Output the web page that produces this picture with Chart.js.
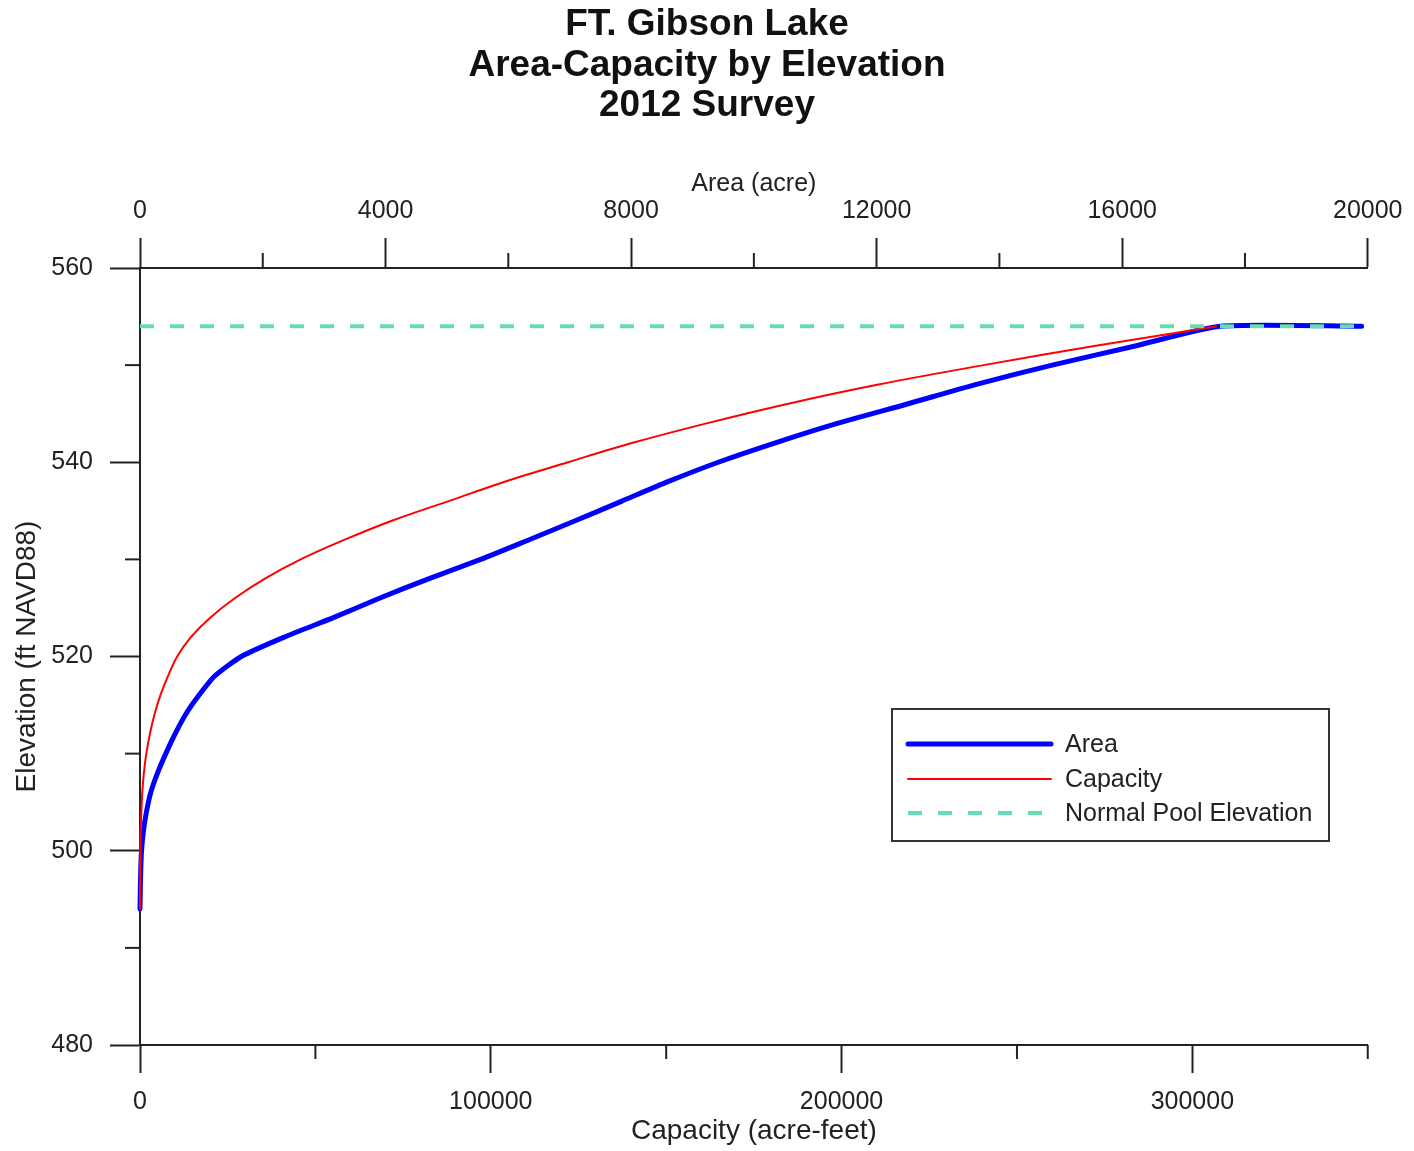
<!DOCTYPE html>
<html>
<head>
<meta charset="utf-8">
<title>FT. Gibson Lake Area-Capacity</title>
<script src="https://cdn.jsdelivr.net/npm/chart.js@4.4.1/dist/chart.umd.min.js"></script>
<style>
	html, body { margin: 0; padding: 0; background: #fff; }
	#chart { display: block; }
</style>
</head>
<body>
<canvas id="chart" width="1414" height="1151"></canvas>
<script>
// values
const areaElevations = [494, 496, 498, 500, 502, 504, 506, 508, 510, 512, 514, 516, 518, 520, 522, 524, 526, 528, 530, 532, 534, 536, 538, 540, 542, 544, 546, 548, 550, 552, 554, 554];
const areaAcres = [0, 5, 12, 25, 55, 105, 175, 285, 420, 570, 740, 960, 1220, 1650, 2350, 3150, 3900, 4700, 5550, 6330, 7100, 7850, 8600, 9420, 10350, 11360, 12500, 13610, 14860, 16230, 17600, 19900];

const capacityElevations = [494, 496, 498, 500, 502, 504, 506, 508, 510, 512, 514, 516, 518, 520, 522, 524, 526, 528, 530, 532, 534, 536, 538, 540, 542, 544, 546, 548, 550, 552, 554];
const capacityAcreFt = [0, 10, 50, 110, 200, 380, 650, 1100, 1800, 2800, 4100, 5800, 8000, 10600, 14500, 20000, 27000, 35500, 45800, 58200, 72000, 88000, 104000, 122000, 140500, 161500, 184500, 210500, 240500, 272500, 307000];

const poolElevation = 554;
const poolAreaRange = [0, 19900];

const titleLines = ['FT. Gibson Lake', 'Area-Capacity by Elevation', '2012 Survey'];

const fontFamily = '"Liberation Sans", Arial, Helvetica, sans-serif';
const axisColor = '#222';

function toPoints(xs, ys)
{
	return xs.map(function (x, i) { return { x: x, y: ys[i] }; });
}

// major ticks get the long line from Chart.js, minor ones are drawn by the plugin below
function majorTickColor(major)
{
	return function (ctx) {
		return ctx.tick && ctx.tick.value % major === 0 ? axisColor : 'rgba(0,0,0,0)';
	};
}

function majorLabel(major)
{
	return function (value) {
		return value % major === 0 ? String(value) : '';
	};
}

const minorTicks = {
	id: 'minorTicks',
	afterDraw: function (chart) {
		const ctx = chart.ctx;
		const area = chart.chartArea;
		const specs = [
			{ id: 'y', major: 20, len: 15 },
			{ id: 'x', major: 100000, len: 14 },
			{ id: 'x2', major: 4000, len: 15 }
		];
		ctx.save();
		ctx.strokeStyle = axisColor;
		ctx.lineWidth = 2;
		specs.forEach(function (spec) {
			const scale = chart.scales[spec.id];
			scale.ticks.forEach(function (t) {
				if (t.value % spec.major === 0) return;
				const p = scale.getPixelForValue(t.value);
				ctx.beginPath();
				if (spec.id === 'y') {
					ctx.moveTo(area.left - spec.len, p);
					ctx.lineTo(area.left, p);
				} else if (spec.id === 'x') {
					ctx.moveTo(p, area.bottom);
					ctx.lineTo(p, area.bottom + spec.len);
				} else {
					ctx.moveTo(p, area.top - spec.len);
					ctx.lineTo(p, area.top);
				}
				ctx.stroke();
			});
		});
		ctx.restore();
	}
};

const boxLegend = {
	id: 'boxLegend',
	afterDraw: function (chart) {
		const ctx = chart.ctx;
		const box = { left: 892, top: 709, width: 437, height: 132 };
		const rowY = [35, 70, 104];
		ctx.save();
		ctx.fillStyle = '#fff';
		ctx.fillRect(box.left, box.top, box.width, box.height);
		ctx.strokeStyle = '#333';
		ctx.lineWidth = 2;
		ctx.strokeRect(box.left, box.top, box.width, box.height);

		chart.data.datasets.forEach(function (ds, i) {
			const y = box.top + rowY[i];
			ctx.beginPath();
			ctx.setLineDash(ds.borderDash || []);
			ctx.strokeStyle = ds.borderColor;
			ctx.lineWidth = ds.borderWidth;
			ctx.lineCap = ds.borderDash ? 'butt' : 'round';
			ctx.moveTo(box.left + 16, y);
			ctx.lineTo(box.left + 159, y);
			ctx.stroke();
			ctx.setLineDash([]);

			ctx.fillStyle = axisColor;
			ctx.font = '25px ' + fontFamily;
			ctx.textAlign = 'left';
			ctx.textBaseline = 'middle';
			ctx.fillText(ds.label, box.left + 173, y + 1);
		});
		ctx.restore();
	}
};

const ctx = document.getElementById('chart').getContext('2d');
new Chart(ctx, {
	type: 'scatter',
	data: {
		datasets: [
			{
				label: 'Area',
				data: toPoints(areaAcres, areaElevations),
				xAxisID: 'x2',
				showLine: true,
				borderColor: '#0000ff',
				borderWidth: 5,
				borderCapStyle: 'round',
				borderJoinStyle: 'round',
				pointRadius: 0,
				tension: 0.2,
				clip: false,
				order: 3
			},
			{
				label: 'Capacity',
				data: toPoints(capacityAcreFt, capacityElevations),
				xAxisID: 'x',
				showLine: true,
				borderColor: '#ff0000',
				borderWidth: 2,
				pointRadius: 0,
				tension: 0.35,
				clip: false,
				order: 2
			},
			{
				label: 'Normal Pool Elevation',
				data: toPoints(poolAreaRange, [poolElevation, poolElevation]),
				xAxisID: 'x2',
				showLine: true,
				borderColor: '#66ddaa',
				borderWidth: 4,
				borderDash: [14, 16],
				pointRadius: 0,
				clip: false,
				order: 1
			}
		]
	},
	options: {
		responsive: false,
		animation: false,
		layout: { padding: 0 },
		plugins: {
			legend: { display: false },
			tooltip: { enabled: false },
			title: {
				display: true,
				text: titleLines,
				color: '#111',
				font: { family: fontFamily, size: 37, weight: 'bold', lineHeight: 1.0946 },
				padding: { top: 4.75, bottom: 0 }
			}
		},
		scales: {
			x: {
				type: 'linear',
				position: 'bottom',
				min: 0,
				max: 350000,
				afterFit: function (scale) { scale.height = 106; },
				border: { display: true, color: axisColor, width: 2 },
				grid: {
					drawOnChartArea: false,
					drawTicks: true,
					tickLength: 28,
					tickWidth: 2,
					tickColor: majorTickColor(100000)
				},
				ticks: {
					stepSize: 50000,
					autoSkip: false,
					maxRotation: 0,
					padding: 14.5,
					color: axisColor,
					font: { family: fontFamily, size: 25 },
					callback: majorLabel(100000)
				},
				title: {
					display: true,
					text: 'Capacity (acre-feet)',
					color: axisColor,
					font: { family: fontFamily, size: 28 },
					padding: { top: 0, bottom: 3 }
				}
			},
			x2: {
				type: 'linear',
				position: 'top',
				axis: 'x',
				min: 0,
				max: 20000,
				afterFit: function (scale) { scale.height = 141.75; },
				border: { display: true, color: axisColor, width: 2 },
				grid: {
					drawOnChartArea: false,
					drawTicks: true,
					tickLength: 30,
					tickWidth: 2,
					tickColor: majorTickColor(4000)
				},
				ticks: {
					stepSize: 2000,
					autoSkip: false,
					maxRotation: 0,
					padding: 11.5,
					color: axisColor,
					font: { family: fontFamily, size: 25 },
					callback: majorLabel(4000)
				},
				title: {
					display: true,
					text: 'Area (acre)',
					color: axisColor,
					font: { family: fontFamily, size: 25 },
					padding: { top: 43, bottom: 0 }
				}
			},
			y: {
				type: 'linear',
				position: 'left',
				min: 480,
				max: 560,
				afterFit: function (scale) { scale.width = 140; },
				border: { display: true, color: axisColor, width: 2 },
				grid: {
					drawOnChartArea: false,
					drawTicks: true,
					tickLength: 30,
					tickWidth: 2,
					tickColor: majorTickColor(20)
				},
				ticks: {
					stepSize: 10,
					autoSkip: false,
					padding: 17,
					color: axisColor,
					font: { family: fontFamily, size: 25 },
					callback: majorLabel(20)
				},
				title: {
					display: true,
					text: 'Elevation (ft NAVD88)',
					color: axisColor,
					font: { family: fontFamily, size: 28 },
					padding: { top: 10.7, bottom: 0 }
				}
			},
			// empty right strip so the plot ends at the same place as the reference
			yRight: {
				type: 'linear',
				position: 'right',
				axis: 'y',
				min: 480,
				max: 560,
				afterFit: function (scale) { scale.width = 41; },
				border: { display: false },
				grid: { display: false, drawTicks: false },
				ticks: { display: false }
			}
		}
	},
	plugins: [minorTicks, boxLegend]
});
</script>
</body>
</html>
